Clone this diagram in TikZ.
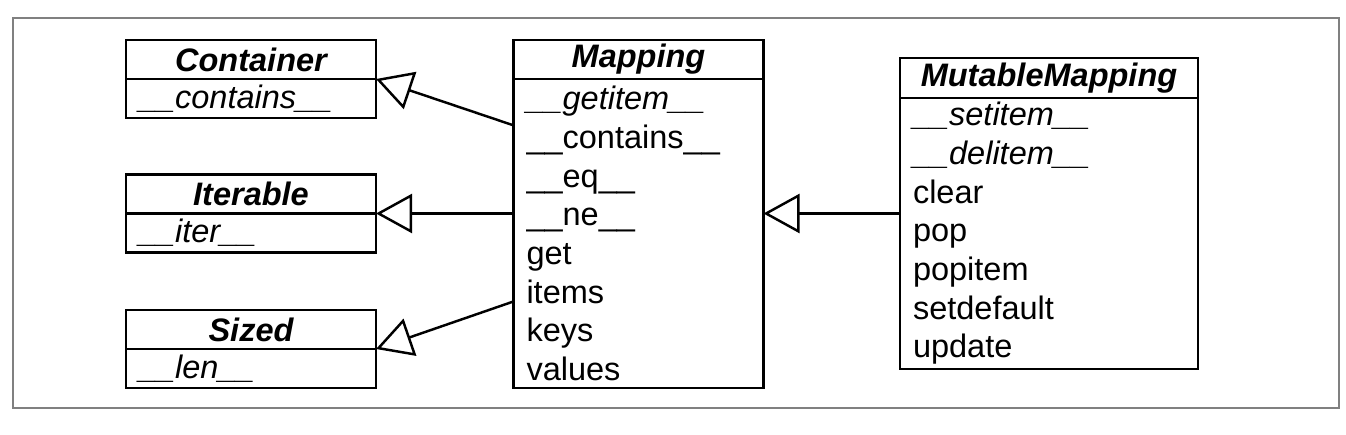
\documentclass[tikz,border=0pt]{standalone}
\usepackage{fontspec}
\setmainfont{Liberation Sans}
\usetikzlibrary{positioning, calc, arrows.meta}

\begin{document}
\begin{tikzpicture}[clsname/.style={draw, line width=1.4pt, outer sep=0pt,
	minimum height=0.78cm, minimum width=5cm, inner sep=0pt,
	font=\fontsize{18.5}{22}\selectfont\bfseries\itshape},
	members/.style={draw, line width=1.4pt, outer sep=0pt, inner xsep=0.26cm,
	inner ysep=0pt, text width=4.48cm, align=left,
	font=\fontsize{18.5}{22}\selectfont},
	inherit/.style={line width=1.4pt,
	-{Triangle[open, length=0.72cm, width=0.78cm]}}]
\useasboundingbox (0, 0) rectangle (26.92, 8.68);
\draw[gray, line width=0.6pt] (0.26, 0.52) rectangle (26.78, 8.32);
% left column
\node[clsname] (cont) at (5.02, 7.49) {Container};
\node[members, minimum height=0.78cm, below=0pt of cont] (contm) {\textit{\_\_contains\_\_}};
\node[clsname] (iter) at (5.02, 4.80) {Iterable};
\node[members, minimum height=0.78cm, below=0pt of iter] (iterm) {\textit{\_\_iter\_\_}};
\node[clsname] (sized) at (5.02, 2.09) {Sized};
\node[members, minimum height=0.78cm, below=0pt of sized] (sizedm) {\textit{\_\_len\_\_}};
% Mapping
\node[clsname] (map) at (12.77, 7.49) {Mapping};
\node[members, minimum height=6.18cm, below=0pt of map] (mapm) {\textit{\_\_getitem\_\_}\\
	\_\_contains\_\_\\ \_\_eq\_\_\\ \_\_ne\_\_\\ get\\ items\\ keys\\ values};
% MutableMapping
\node[clsname, minimum width=5.96cm, minimum height=0.8cm] (mmap) at (20.98, 7.12) {MutableMapping};
\node[members, text width=5.44cm, minimum height=5.42cm, below=0pt of mmap] (mmapm) {\textit{\_\_setitem\_\_}\\
	\textit{\_\_delitem\_\_}\\ clear\\ pop\\ popitem\\ setdefault\\ update};
\draw[inherit] ($(mapm.north west)!0.15!(mapm.south west)$) to (cont.south east);
\draw[inherit] (mapm.west |- iter.south east) to (iter.south east);
\draw[inherit] ($(mapm.north west)!0.72!(mapm.south west)$) to (sized.south east);
\draw[inherit] (mmapm.west |- iter.south east) to (mapm.east |- iter.south east);
\end{tikzpicture}
\end{document}
